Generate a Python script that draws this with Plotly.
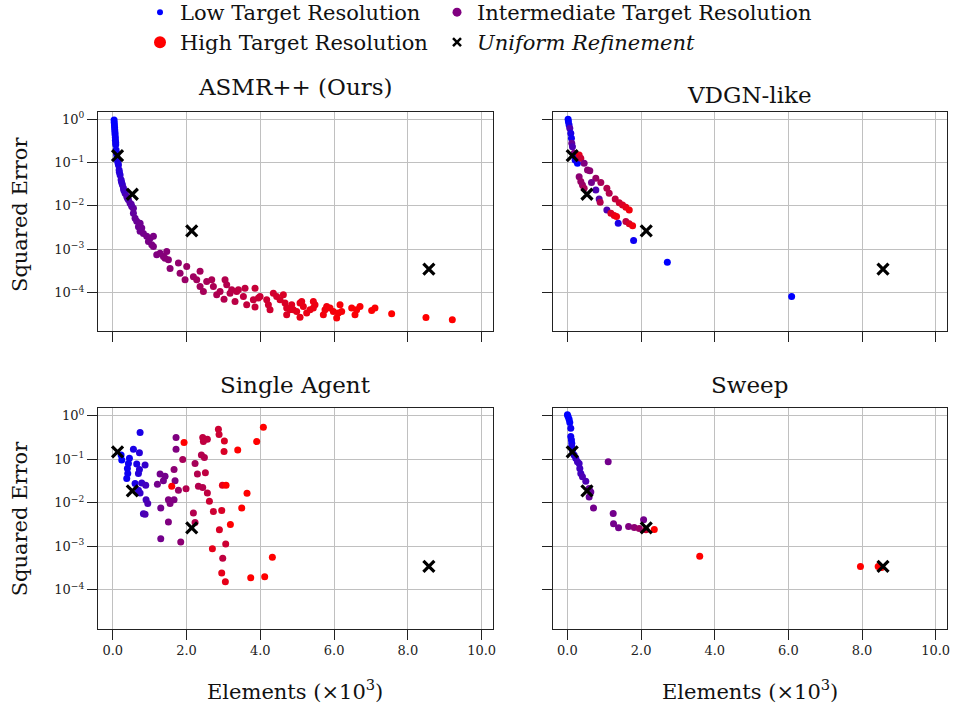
import plotly.graph_objects as go

FONT = "DejaVu Serif"

# ---------------- data (x in thousands of elements, y = squared error) ----------------
asmr_x = [0.036, 0.045, 0.054, 0.063, 0.072, 0.081, 0.09, 0.108, 0.126, 0.154, 0.172, 0.199, 0.226, 0.262,
          0.289, 0.334, 0.379, 0.425, 0.47, 0.515, 0.56, 0.56, 0.605, 0.65, 0.696, 0.741, 0.786, 0.741, 0.831,
          0.921, 1.012, 1.102, 0.967, 1.057, 1.102, 1.192, 1.283, 1.373, 1.463, 1.418, 1.509, 1.554, 1.78, 1.825,
          1.96, 2.005, 2.186, 2.276, 2.367, 2.367, 2.457, 2.547, 2.683, 2.728, 2.818, 2.909, 3.044, 3.089, 3.017,
          3.18, 3.225, 3.315, 3.36, 3.406, 3.541, 3.586, 3.631, 3.812, 3.857, 3.857, 3.948, 3.993, 4.173, 4.219,
          4.264, 4.354, 4.444, 4.535, 4.625, 4.67, 4.715, 4.715, 4.806, 4.851, 4.896, 4.986, 5.077, 5.077, 5.122,
          5.167, 5.257, 5.348, 5.438, 5.483, 5.438, 5.709, 5.754, 5.8, 5.89, 5.98, 6.07, 6.116, 6.161, 6.206,
          6.477, 6.567, 6.612, 6.703, 7.019, 7.109, 7.561, 8.491, 9.205,
          0.04, 0.05, 0.06, 0.07, 0.08, 0.1, 0.14, 0.18, 0.24, 0.3, 0.4, 0.5]
asmr_y = [0.97, 0.74, 0.57, 0.44, 0.33, 0.26, 0.196, 0.15, 0.115, 0.088, 0.068, 0.052, 0.04, 0.031, 0.026,
          0.0196, 0.0164, 0.0138, 0.0115, 0.0097, 0.0088, 0.0068, 0.0052, 0.0044, 0.0033, 0.004, 0.0031, 0.0026,
          0.0023, 0.002, 0.0018, 0.002, 0.0015, 0.00126, 0.00115, 0.00074, 0.00081, 0.00068, 0.00088, 0.00062,
          0.00057, 0.00036, 0.00048, 0.00028, 0.000196, 0.0004, 0.00023, 0.000196, 0.00031, 0.000138, 0.000105,
          0.00018, 0.000196, 0.000138, 0.0000883, 0.000105, 0.000196, 0.00015, 0.00007, 0.0000966, 0.000115,
          0.000062, 0.000105, 0.000115, 0.000081, 0.000126, 0.0000519, 0.0000676, 0.000126, 0.0000459,
          0.0000741, 0.000081, 0.0000676, 0.0000519, 0.0000398, 0.0000966, 0.000081, 0.0000676, 0.0000883,
          0.0000568, 0.0000437, 0.0000305, 0.0000398, 0.0000519, 0.0000398, 0.0000365, 0.0000269, 0.0000568,
          0.000062, 0.0000475, 0.0000334, 0.0000398, 0.000062, 0.0000519, 0.0000437, 0.0000305, 0.0000398,
          0.0000475, 0.0000437, 0.0000365, 0.0000257, 0.0000334, 0.0000519, 0.0000365, 0.0000437, 0.0000305,
          0.0000398, 0.0000475, 0.0000385, 0.0000437, 0.0000324, 0.0000265, 0.0000234,
          0.85, 0.65, 0.5, 0.38, 0.29, 0.17, 0.1, 0.06, 0.035, 0.023, 0.015, 0.011]
asmr_res = [0, 0, 0.02, 0.03, 0.04, 0.05, 0.06, 0.08, 0.1, 0.12, 0.14, 0.17, 0.2, 0.22, 0.25, 0.27, 0.3, 0.32,
            0.34, 0.36, 0.38, 0.38, 0.4, 0.41, 0.42, 0.43, 0.44, 0.43, 0.45, 0.46, 0.47, 0.48, 0.47, 0.48, 0.49,
            0.5, 0.51, 0.52, 0.53, 0.53, 0.54, 0.55, 0.57, 0.58, 0.6, 0.6, 0.62, 0.63, 0.64, 0.64, 0.65, 0.66,
            0.67, 0.67, 0.68, 0.69, 0.7, 0.7, 0.7, 0.71, 0.72, 0.73, 0.73, 0.74, 0.75, 0.75, 0.76, 0.77, 0.78,
            0.78, 0.79, 0.79, 0.8, 0.81, 0.81, 0.82, 0.83, 0.84, 0.85, 0.85, 0.86, 0.86, 0.87, 0.87, 0.88, 0.89,
            0.9, 0.9, 0.9, 0.91, 0.92, 0.92, 0.93, 0.93, 0.93, 0.95, 0.95, 0.95, 0.96, 0.96, 0.97, 0.97, 0.97,
            0.97, 0.98, 0.98, 0.98, 0.98, 0.99, 0.99, 1, 1, 1,
            0.0, 0.01, 0.03, 0.04, 0.05, 0.07, 0.1, 0.14, 0.2, 0.24, 0.3, 0.35]

vdgn_x = [0.018, 0.027, 0.045, 0.064, 0.091, 0.109, 0.118, 0.136, 0.181, 0.227, 0.272, 0.209, 0.318, 0.363,
          0.454, 0.545, 0.608, 0.771, 0.907, 1.071, 1.134, 1.298, 1.407, 1.497, 1.588, 1.679, 0.318, 0.363,
          0.408, 0.454, 0.653, 0.771, 0.862, 0.889, 1.071, 1.18, 1.27, 1.334, 1.379, 1.588, 1.679, 1.77, 1.797,
          2.713, 6.089]
vdgn_y = [1.0, 0.88, 0.74, 0.62, 0.475, 0.365, 0.28, 0.234, 0.164, 0.126, 0.0966, 0.115, 0.15, 0.126, 0.0966,
          0.068, 0.065, 0.0436, 0.0347, 0.0257, 0.0196, 0.0145, 0.0119, 0.0105, 0.0093, 0.0081, 0.0475, 0.0365,
          0.0305, 0.0256, 0.0347, 0.0234, 0.0145, 0.0122, 0.0081, 0.0068, 0.006, 0.0057, 0.004, 0.00435,
          0.00385, 0.00347, 0.00158, 0.0005, 0.0000809]
vdgn_res = [0, 0, 0.05, 0.3, 0.1, 0.05, 0.4, 0.3, 0.5, 0.1, 0.0, 0.05, 0.9, 0.8, 0.5, 0.55, 0.55, 0.6, 0.65,
            0.7, 0.7, 0.75, 0.8, 0.85, 0.9, 0.95, 0.55, 0.6, 0.6, 0.65, 0.45, 0.3, 0.35, 0.7, 0.3, 0.85, 0.9,
            0.95, 0.1, 0.75, 0.85, 0.95, 0.05, 0.0, 0.0]

single_x = [0.741, 0.56, 0.723, 0.452, 0.226, 0.244, 0.425, 0.397, 0.407, 0.379, 0.65, 0.723, 0.696, 0.876,
            0.605, 0.786, 0.894, 0.696, 0.741, 0.903, 0.949, 0.831, 0.876,
            1.283, 1.418, 1.373, 1.21, 1.662, 1.716, 1.716, 1.897, 1.689, 1.78, 1.509, 1.662, 1.554, 1.301,
            1.509, 1.301, 1.843,
            1.933, 1.599, 1.987, 2.231, 2.295, 2.322, 2.439, 2.565, 2.511, 2.403, 2.484, 2.439, 2.457, 2.565,
            2.864, 2.882, 3.026, 3.017, 3.388, 3.902, 4.083, 2.972, 3.071, 3.64, 2.62, 2.728, 2.954, 3.496,
            2.186, 2.231, 2.891, 3.189, 3.062, 2.701, 2.981, 4.327, 2.954, 3.053, 3.74, 4.119]
single_y = [0.405, 0.167, 0.14, 0.104, 0.124, 0.095, 0.079, 0.061, 0.0468, 0.0358, 0.0767, 0.0578, 0.0468,
            0.0728, 0.0274, 0.0284, 0.0251, 0.0193, 0.0167, 0.0117, 0.0095, 0.0056, 0.0054,
            0.0451, 0.0405, 0.0316, 0.0265, 0.0578, 0.31, 0.167, 0.098, 0.0316, 0.0193, 0.0117, 0.0117, 0.0095,
            0.0075, 0.00358, 0.00148, 0.00126,
            0.238, 0.0238, 0.0207, 0.0794, 0.0451, 0.0238, 0.0222, 0.0167, 0.0484, 0.124, 0.109, 0.31, 0.251,
            0.284, 0.484, 0.365, 0.26, 0.148, 0.161, 0.251, 0.538, 0.0251, 0.0251, 0.0164, 0.0107, 0.0063,
            0.00665, 0.0075, 0.00578, 0.00352, 0.00238, 0.00316, 0.00113, 0.00088, 0.00053, 0.000557, 0.000243,
            0.000153, 0.000189, 0.0002]
single_res = [0.1, 0.1, 0.15, 0.05, 0.0, 0.0, 0.05, 0.05, 0.05, 0.05, 0.1, 0.15, 0.15, 0.2, 0.1, 0.2, 0.25,
              0.15, 0.2, 0.25, 0.3, 0.25, 0.3,
              0.45, 0.45, 0.45, 0.45, 0.55, 0.5, 0.5, 0.65, 0.5, 0.6, 0.5, 0.5, 0.5, 0.45, 0.5, 0.45, 0.55,
              1.0, 1.0, 0.7, 0.65, 0.7, 0.7, 0.7, 0.75, 0.75, 0.7, 0.7, 0.75, 0.75, 0.75, 0.8, 0.8, 0.85, 0.85,
              1.0, 1.0, 1.0, 0.9, 1.0, 1.0, 0.8, 0.8, 0.85, 1.0, 0.7, 0.7, 0.85, 1.0, 0.8, 0.9, 0.75, 1.0, 0.9,
              0.9, 1.0, 1.0]

sweep_x = [0.0, 0.018, 0.045, 0.064, 0.091, 0.091, 0.109, 0.118, 0.118, 0.136, 0.181, 0.227, 0.272, 0.318,
           0.336, 0.363, 0.408, 0.499, 0.59, 0.635, 0.59, 1.107, 0.708, 1.243, 1.252, 1.388, 1.661, 1.815,
           1.951, 2.069, 2.132, 2.359, 3.593, 7.958, 8.439, 8.53]
sweep_y = [1.03, 0.95, 0.82, 0.69, 0.51, 0.33, 0.274, 0.23, 0.193, 0.161, 0.124, 0.104, 0.0867, 0.0794, 0.061,
           0.0468, 0.0391, 0.031, 0.021, 0.0176, 0.0135, 0.0867, 0.0075, 0.00567, 0.00327, 0.00265, 0.00284,
           0.0027, 0.00256, 0.00405, 0.00238, 0.00243, 0.000588, 0.000345, 0.000345, 0.000327]
sweep_res = [0, 0, 0, 0, 0.05, 0.05, 0.05, 0.05, 0.1, 0.1, 0.15, 0.2, 0.25, 0.25, 0.25, 0.25, 0.3, 0.3, 0.4,
             0.4, 0.4, 0.45, 0.45, 0.45, 0.45, 0.45, 0.5, 0.55, 0.6, 0.45, 0.8, 1.0, 1.0, 1.0, 1.0, 1.0]

uniform_x = [0.13, 0.53, 2.14, 8.57]
uniform_y = [0.145, 0.0186, 0.00265, 0.000345]

panel_titles = ["ASMR++ (Ours)", "VDGN-like", "Single Agent", "Sweep"]
legend_names = ["Low Target Resolution", "Intermediate Target Resolution", "High Target Resolution",
                "<i>Uniform Refinement</i>"]
x_ticks = [0, 2, 4, 6, 8, 10]
x_ticklabels = ["0.0", "2.0", "4.0", "6.0", "8.0", "10.0"]
y_ticks = [1, 0.1, 0.01, 0.001, 0.0001]
y_ticklabels = ["10<sup>0</sup>", "10<sup>\u22121</sup>", "10<sup>\u22122</sup>", "10<sup>\u22123</sup>",
                "10<sup>\u22124</sup>"]

# ---------------- figure ----------------
fig = go.Figure()
cscale = [[0, "rgb(0,0,255)"], [1, "rgb(255,0,0)"]]
panels = [("x", "y", asmr_x, asmr_y, asmr_res), ("x2", "y2", vdgn_x, vdgn_y, vdgn_res),
          ("x3", "y3", single_x, single_y, single_res), ("x4", "y4", sweep_x, sweep_y, sweep_res)]
for xa, ya, xs, ys, rs in panels:
    fig.add_trace(go.Scatter(x=xs, y=ys, xaxis=xa, yaxis=ya, mode="markers", showlegend=False,
                             marker=dict(size=7, color=rs, colorscale=cscale, cmin=0, cmax=1,
                                         line=dict(width=0))))
    fig.add_trace(go.Scatter(x=uniform_x, y=uniform_y, xaxis=xa, yaxis=ya, mode="markers", showlegend=False,
                             marker=dict(symbol="x-thin", size=11, color="black",
                                         line=dict(width=3.2, color="black"))))

# legend entries (one legend box per entry to place them in a 2x2 grid)
legend_markers = [dict(size=6, color="rgb(0,0,255)"),
                  dict(size=9, color="rgb(128,0,128)"),
                  dict(size=12, color="rgb(255,0,0)"),
                  dict(symbol="x-thin", size=8, color="black", line=dict(width=2.5, color="black"))]
legend_ids = ["legend", "legend2", "legend3", "legend4"]
for name, mk, lid in zip(legend_names, legend_markers, legend_ids):
    fig.add_trace(go.Scatter(x=[None], y=[None], mode="markers", name=name, legend=lid, marker=mk))

axis_common = dict(showline=True, mirror=True, linecolor="#222", linewidth=1.3, showgrid=True,
                   gridcolor="#c0c0c0", gridwidth=1.2, ticks="outside", ticklen=10, tickwidth=1.3,
                   tickcolor="#222", zeroline=False, tickfont=dict(family=FONT, size=13, color="#222"))
XL = [98 / 956, 492.7 / 956]
XR = [552.7 / 956, 946.7 / 956]
YT = [1 - 331 / 708, 1 - 112 / 708]
YB = [1 - 628.7 / 708, 1 - 408 / 708]
xr = [-0.4, 10.3]
yr = [-4.89, 0.17]

def xax(dom, anchor, labels):
    return dict(domain=dom, anchor=anchor, range=xr, tickvals=x_ticks, ticktext=x_ticklabels,
                showticklabels=labels, **axis_common)

def yax(dom, anchor, labels):
    return dict(domain=dom, anchor=anchor, type="log", range=yr, tickvals=y_ticks, ticktext=y_ticklabels,
                showticklabels=labels, **axis_common)

legend_common = dict(orientation="h", xanchor="left", yanchor="top",
                     font=dict(family=FONT, size=21, color="#111"), bgcolor="rgba(0,0,0,0)",
                     itemclick=False)
legend_pos = [(140 / 956, 1 + 8 / 708), (437 / 956, 1 + 8 / 708),
              (140 / 956, 1 - 22 / 708), (437 / 956, 1 - 22 / 708)]

layout_legends = {lid: dict(x=px, y=py, **legend_common) for lid, (px, py) in zip(legend_ids, legend_pos)}

fig.update_layout(
    width=956, height=708, margin=dict(l=0, r=0, t=0, b=0, autoexpand=False),
    paper_bgcolor="white", plot_bgcolor="white",
    font=dict(family=FONT, color="#111"),
    xaxis=xax(XL, "y", False), yaxis=yax(YT, "x", True),
    xaxis2=xax(XR, "y2", False), yaxis2=yax(YT, "x2", False),
    xaxis3=xax(XL, "y3", True), yaxis3=yax(YB, "x3", True),
    xaxis4=xax(XR, "y4", True), yaxis4=yax(YB, "x4", False),
    **layout_legends,
)

ann = []
title_pos = [((XL[0] + XL[1]) / 2, 1 - 102.5 / 708), ((XR[0] + XR[1]) / 2, 1 - 109.5 / 708),
             ((XL[0] + XL[1]) / 2, 1 - 399.5 / 708), ((XR[0] + XR[1]) / 2, 1 - 399.5 / 708)]
for t, (px, py) in zip(panel_titles, title_pos):
    ann.append(dict(text=t, x=px, y=py, xref="paper", yref="paper", xanchor="center", yanchor="bottom",
                    showarrow=False, font=dict(family=FONT, size=23, color="#111")))
for yc in [1 - 214 / 708, (YB[0] + YB[1]) / 2]:
    ann.append(dict(text="Squared Error", x=20 / 956, y=yc, xref="paper", yref="paper", xanchor="center",
                    yanchor="middle", textangle=-90, showarrow=False,
                    font=dict(family=FONT, size=21, color="#111")))
for xc in [(XL[0] + XL[1]) / 2, (XR[0] + XR[1]) / 2]:
    ann.append(dict(text="Elements (\u00d710<sup>3</sup>)", x=xc, y=1 - 690 / 708, xref="paper", yref="paper",
                    xanchor="center", yanchor="middle", showarrow=False,
                    font=dict(family=FONT, size=21, color="#111")))
fig.update_layout(annotations=ann)

fig.write_html("out.html")
